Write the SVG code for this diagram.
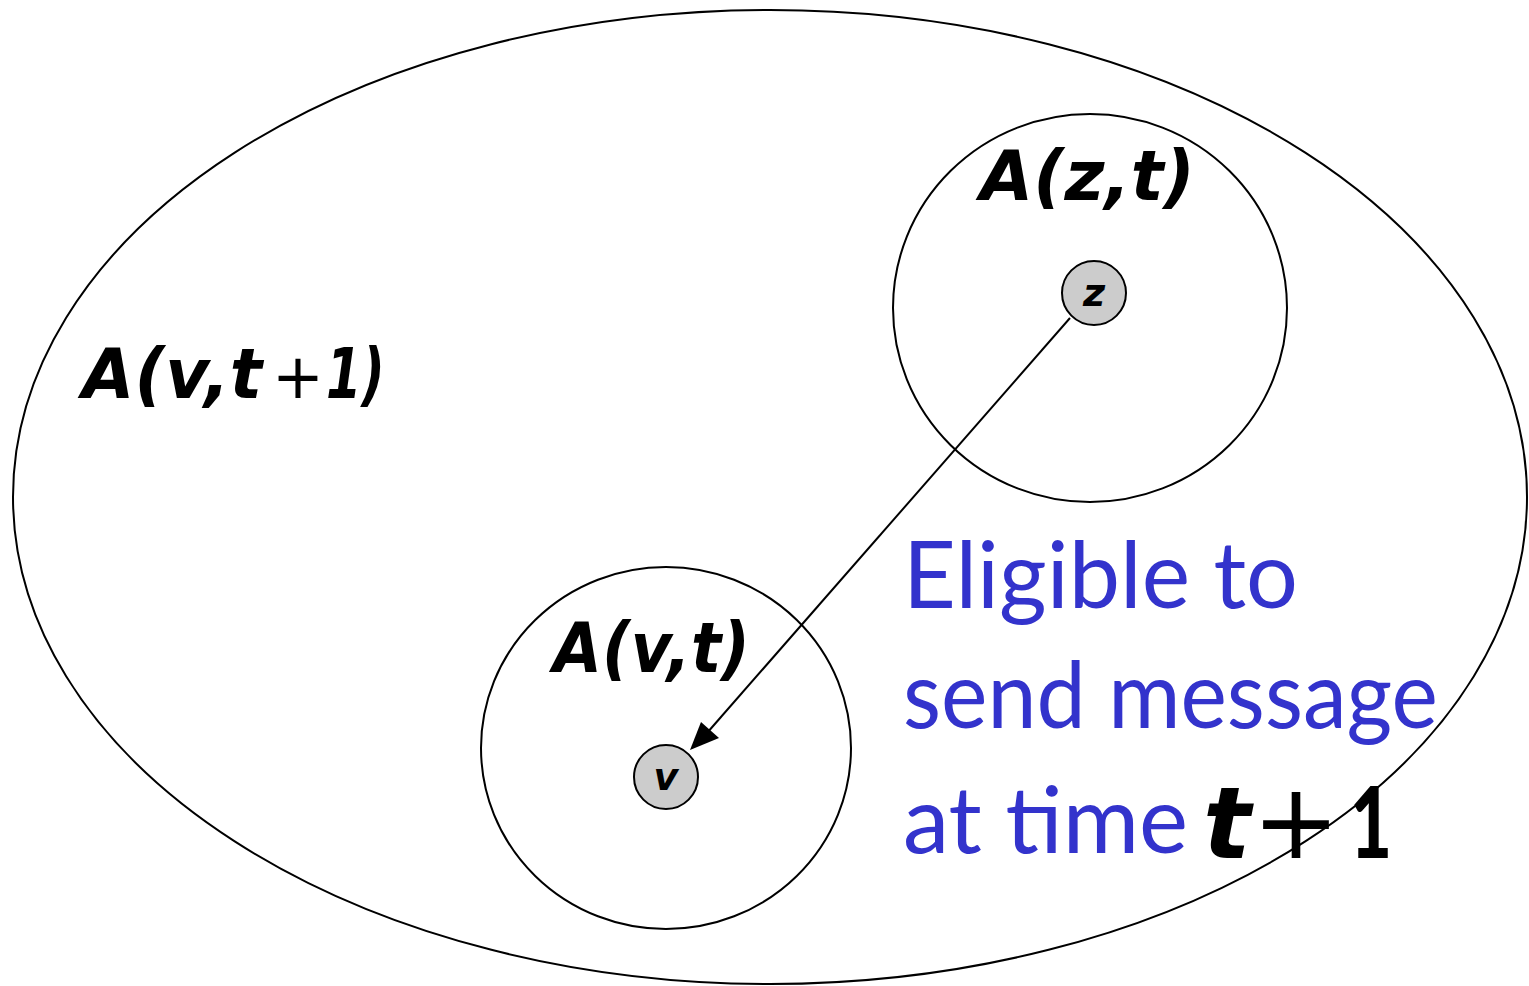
<svg xmlns="http://www.w3.org/2000/svg" width="1529" height="986" viewBox="0 0 1529 986">
<style>
.outline{fill:none;stroke:#000;stroke-width:2}
.node{fill:#cccccc;stroke:#000;stroke-width:2}
.math{font-family:"DejaVu Sans",sans-serif;font-style:italic;font-weight:bold;fill:#000}
.op{font-family:"DejaVu Sans",sans-serif;fill:#000}
.blue{font-family:Lato,"DejaVu Sans",sans-serif;fill:#3333cc}
</style>
<g id="region-vt1">
<ellipse class="outline" cx="770" cy="497" rx="757" ry="487"/>
<text class="math" x="82" y="398" font-size="70" textLength="180" lengthAdjust="spacingAndGlyphs">A(v,t</text>
<text class="op" x="272" y="398" font-size="62">+</text>
<text class="math" x="326" y="398" font-size="70" textLength="59" lengthAdjust="spacingAndGlyphs">1)</text>
</g>
<g id="region-zt">
<ellipse class="outline" cx="1090" cy="308" rx="197" ry="194"/>
<text class="math" x="980" y="200" font-size="70" textLength="215" lengthAdjust="spacingAndGlyphs">A(z,t)</text>
</g>
<g id="region-vt">
<ellipse class="outline" cx="666" cy="748" rx="185" ry="181"/>
<text class="math" x="553" y="672" font-size="70" textLength="197" lengthAdjust="spacingAndGlyphs">A(v,t)</text>
</g>
<g id="node-z">
<circle class="node" cx="1094" cy="293" r="32"/>
<text class="math" x="1094" y="306" font-size="38" text-anchor="middle">z</text>
</g>
<g id="node-v">
<circle class="node" cx="666" cy="777" r="32"/>
<text class="math" x="666" y="790" font-size="38" text-anchor="middle">v</text>
</g>
<g id="connectors">
<line x1="1070" y1="318" x2="700" y2="741" stroke="#000" stroke-width="2"/>
<path d="M690,750 L701,722 L719,738 Z" fill="#000"/>
</g>
<g id="label">
<text class="blue" x="903" y="608" font-size="94" textLength="395" lengthAdjust="spacingAndGlyphs">Eligible to</text>
<text class="blue" x="903" y="728" font-size="94" textLength="535" lengthAdjust="spacingAndGlyphs">send message</text>
<text class="blue" x="903" y="853" font-size="94" textLength="285" lengthAdjust="spacingAndGlyphs">at time</text>
<text class="math" x="1203" y="858" font-size="100">t</text>
<text class="op" x="1252" y="858" font-size="105">+</text>
<text x="1350" y="858" font-size="100" font-family="Lato,sans-serif" font-weight="900" fill="#000" textLength="42" lengthAdjust="spacingAndGlyphs">1</text>
</g>
</svg>
